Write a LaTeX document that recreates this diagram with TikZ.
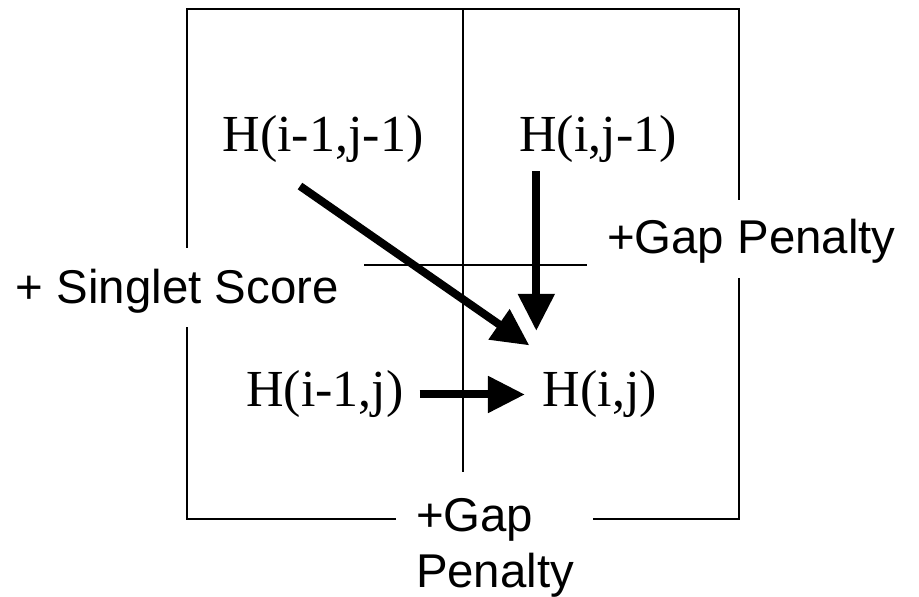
\documentclass[tikz,border=0pt]{standalone}
\usepackage{fontspec}
\setmainfont{Liberation Serif}
\setsansfont{Liberation Sans}
\usetikzlibrary{arrows.meta,calc}

\tikzset{
  cell/.style={inner sep=0pt, anchor=base, font=\fontsize{26}{30}\selectfont},
  lab/.style={inner sep=0pt, anchor=base west, font=\sffamily\fontsize{23.7}{28}\selectfont},
  arr/.style={line width=4pt, -{Triangle[length=18.5pt,width=17.5pt]}},
}

\begin{document}
\begin{tikzpicture}[x=0.5pt,y=-0.5pt,line width=1pt]
				\useasboundingbox (0,0) rectangle (919,597);
				% box corners and the two inner lines
				\coordinate (A) at (187,9);
				\coordinate (B) at (739,9);
				\coordinate (C) at (739,519);
				\coordinate (D) at (187,519);
				\coordinate (M) at (463,9);
				\coordinate (N) at (463,472);
				\coordinate (L) at (364,265);
				\coordinate (R) at (587,265);
				\draw (187,248) -- (A) -- (B) -- (739,200);
				\draw (739,278) -- (C) -- (593,519);
				\draw (396,519) -- (D) -- (187,327);
				\draw (M) -- (N);
				\draw (L) -- (R);
				% the four cells
				\node[cell] (hd) at (323,152) {H(i-1,j-1)};
				\node[cell] (hu) at (598,152) {H(i,j-1)};
				\node[cell] (hl) at (325,407) {H(i-1,j)};
				\node[cell] (hij) at (600,407) {H(i,j)};
				% scores
				\node[lab] (ss) at (15,304) {+ Singlet Score};
				\node[lab] (gr) at (606,254) {+Gap Penalty};
				\node[lab, align=left] (gb) at (415,587) {+Gap\\Penalty};
				% arrows into H(i,j)
				\coordinate (ds) at ($(hd.south)+(-23,22)$);
				\coordinate (vs) at ($(hu.south west)+(18,7)$);
				\draw[arr, shorten >=43pt] (ds) -- (hij.center);
				\draw[arr, shorten >=19.5pt] (vs) -- (vs |- hij.north);
				\draw[arr, shorten <=7.5pt, shorten >=8.5pt] (hl.east) -- (hij.west);
			\end{tikzpicture}
\end{document}
